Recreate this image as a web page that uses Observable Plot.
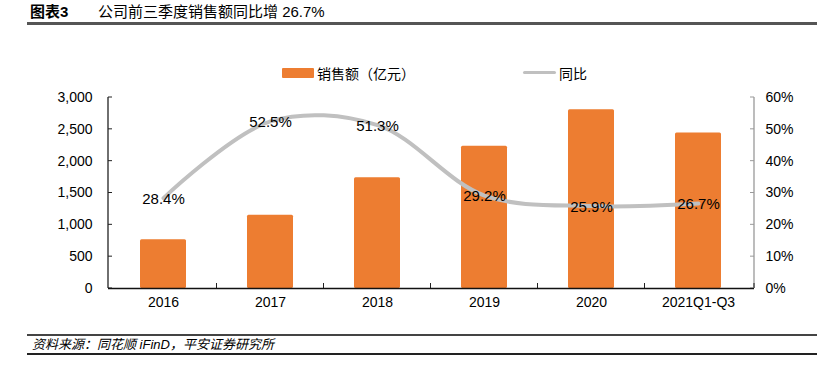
<!DOCTYPE html>
<html><head><meta charset="utf-8">
<script src="https://cdn.jsdelivr.net/npm/d3@7"></script>
<script src="https://cdn.jsdelivr.net/npm/@observablehq/plot@0.6"></script>
<style>
body{margin:0;background:#fff;}
#wrap{position:relative;width:817px;height:371px;overflow:hidden;font-family:"Liberation Sans",Arial,"Noto Sans CJK SC",sans-serif;color:#000;}
.abs{position:absolute;white-space:nowrap;}
#chart{position:absolute;left:0;top:85px;}
</style></head>
<body><div id="wrap">
<div class="abs" style="left:30px;top:2px;font:bold 15px 'Liberation Sans','Noto Sans CJK SC',sans-serif;line-height:20px;">图表3</div>
<div class="abs" style="left:98px;top:2px;font:15px 'Liberation Sans','Noto Sans CJK SC',sans-serif;line-height:20px;">公司前三季度销售额同比增 26.7%</div>
<div class="abs" style="left:27px;top:22px;width:790px;height:2.5px;background:#555;"></div>
<div class="abs" style="left:282px;top:68px;width:32px;height:10px;background:#ED7D31;border-radius:1px;"></div>
<div class="abs" style="left:317px;top:64px;font:14px 'Noto Sans CJK SC',sans-serif;line-height:18px;">销售额（亿元）</div>
<div class="abs" style="left:523px;top:71px;width:33px;height:3px;background:#c0c0c0;border-radius:2px;"></div>
<div class="abs" style="left:559px;top:64px;font:14px 'Noto Sans CJK SC',sans-serif;line-height:18px;">同比</div>
<div id="chart"></div>
<div class="abs" style="left:27px;top:334px;width:790px;height:1.5px;background:#444;"></div>
<div class="abs" style="left:32px;top:337px;font:italic 13px 'Liberation Sans','Noto Sans CJK SC',sans-serif;line-height:16px;">资料来源：同花顺 iFinD，平安证券研究所</div>
<div class="abs" style="left:27px;top:353px;width:790px;height:2px;background:#222;"></div>
</div>
<script>
const categories = ["2016","2017","2018","2019","2020","2021Q1-Q3"];
const sales = [765, 1151, 1738, 2234, 2806, 2444];
const growth = [28.4, 52.5, 51.3, 29.2, 25.9, 26.7];
const leftTicks = [0,500,1000,1500,2000,2500,3000];
const rightTicks = [0,10,20,30,40,50,60];

const k = 3000/60; // map percent onto the sales scale
const data = categories.map((c,i)=>({cat:c, sales:sales[i], growth:growth[i]}));
const pi = 0.57;

function frameMark(index, scales, values, dim) {
  const g = d3.create("svg:g");
  const x0 = dim.marginLeft, x1 = dim.width - dim.marginRight;
  const yTop = scales.y(3000), yBot = scales.y(0);
  const bw = typeof scales.x.bandwidth === "function" ? scales.x.bandwidth() : scales.x.bandwidth;
  const step = bw/(1-pi);
  g.append("line").attr("x1",x0).attr("x2",x0).attr("y1",yTop).attr("y2",yBot).attr("stroke","#222").attr("stroke-width",1.3);
  g.append("line").attr("x1",x1).attr("x2",x1).attr("y1",yTop).attr("y2",yBot).attr("stroke","#999").attr("stroke-width",1.3);
  categories.forEach((c,i)=>{
    const xb = scales.x(c) - pi*step/2;
    if (i>0) g.append("line").attr("x1",xb).attr("x2",xb).attr("y1",yBot).attr("y2",yBot-5).attr("stroke","#222");
  });
  g.append("line").attr("x1",x1).attr("x2",x1).attr("y1",yBot).attr("y2",yBot-5).attr("stroke","#222");
  leftTicks.forEach(t=>{
    const y = scales.y(t);
    g.append("line").attr("x1",x0).attr("x2",x0+4).attr("y1",y).attr("y2",y).attr("stroke","#222");
    g.append("line").attr("x1",x1).attr("x2",x1-4).attr("y1",y).attr("y2",y).attr("stroke","#999");
  });
  return g.node();
}

const chart = Plot.plot({
  width: 817,
  height: 230,
  marginLeft: 108,
  marginRight: 63,
  marginTop: 12,
  marginBottom: 27,
  style: {fontFamily: "'Liberation Sans', Arial, sans-serif", fontSize: "14px", color: "#000", background: "transparent"},
  x: {domain: categories, paddingInner: pi, paddingOuter: pi/2, label: null},
  y: {domain: [0, 3000], label: null},
  marks: [
    Plot.barY(data, {x: "cat", y: "sales", fill: "#ED7D31", rx: 1.5}),
    frameMark,
    Plot.ruleY([0], {stroke: "#111", strokeWidth: 1.5}),
    Plot.axisY(leftTicks, {anchor: "left", tickSize: 0, tickPadding: 16, tickFormat: d3.format(","), label: null, fontSize: 14}),
    Plot.axisY(leftTicks, {anchor: "right", tickSize: 0, tickPadding: 11, tickFormat: d => (d/k) + "%", label: null, fontSize: 14}),
    Plot.axisX({tickSize: 0, tickPadding: 9, label: null, fontSize: 14}),
    Plot.line(data, {x: "cat", y: d => d.growth*k, stroke: "#c0c0c0", strokeWidth: 4, curve: "catmull-rom"}),
    Plot.text(data, {x: "cat", y: d => d.growth*k, text: d => d.growth.toFixed(1) + "%", fontSize: 15, fill: "#000", dy: 1})
  ]
});
document.getElementById("chart").appendChild(chart);
</script>
</body></html>
